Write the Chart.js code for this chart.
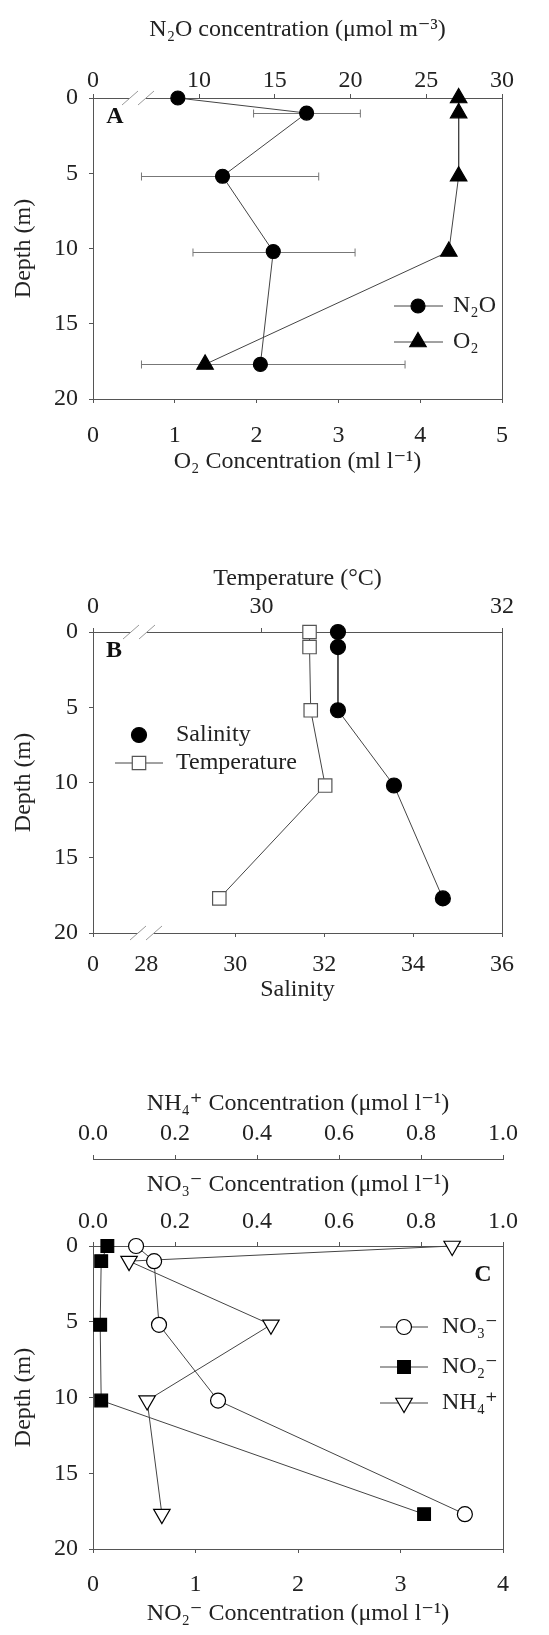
<!DOCTYPE html>
<html>
<head>
<title>Depth profiles A, B, C</title>
<script src="https://cdn.jsdelivr.net/npm/chart.js"></script>
<style>
  body { margin: 0; background: #fff; }
  canvas { position: absolute; left: 0; }
</style>
</head>
<body>
<canvas id="chartA" width="549" height="490" style="top:0px"></canvas>
<canvas id="chartB" width="549" height="530" style="top:490px"></canvas>
<canvas id="chartC" width="549" height="615" style="top:1020px"></canvas>
<script>
// sample depths (m), shared by all three panels
const depths = [0, 1, 5.2, 10.2, 17.7];
const depthTicks = [0, 5, 10, 15, 20];

// panel A
const n2o = [8.6, 17.1, 11.55, 14.9, 14.05];
const n2oErrLow = [null, 13.6, 6.2, 9.6, 6.2];
const n2oErrHigh = [null, 20.65, 17.9, 20.3, 23.6];
const o2 = [4.47, 4.47, 4.47, 4.35, 1.37];
const n2oTicks = [10, 15, 20, 25, 30];
const o2Ticks = [0, 1, 2, 3, 4, 5];

// panel B
const salinity = [32.31, 32.31, 32.31, 33.57, 34.67];
const temperature = [30.40, 30.40, 30.41, 30.53, 29.65];
const salinityTicks = [28, 30, 32, 34, 36];
const temperatureTicks = [30, 32];

// panel C
const no3 = [0.105, 0.149, 0.161, 0.305, 0.907];
const no2 = [0.14, 0.08, 0.07, 0.08, 3.23];
const nh4 = [0.876, 0.088, 0.434, 0.132, 0.168];
const concTicks = [0, 0.2, 0.4, 0.6, 0.8, 1.0];
const no2Ticks = [0, 1, 2, 3, 4];

const FONT = "'Liberation Serif', 'Times New Roman', 'DejaVu Serif', serif";
const AXIS = '#555';
const LINE = '#444';

Chart.defaults.font.family = FONT;
Chart.defaults.font.size = 24;
Chart.defaults.color = '#222';

function pts(xs) {
    return depths.map((d, i) => ({ x: xs[i], y: d }));
}

// horizontal axis; "zero" is the value where a broken axis shows a 0 label
function hAxis(o) {
    const ticks = o.zero !== undefined ? [o.zero].concat(o.ticks) : o.ticks;
    return {
        type: 'linear', axis: 'x', position: o.position, min: o.min, max: o.max,
        bounds: 'data', weight: o.weight || 0,
        afterBuildTicks: s => { s.ticks = ticks.map(v => ({ value: v })); },
        afterFit: s => { s.height = o.height; s.paddingLeft = 0; s.paddingRight = 0; },
        border: { display: true, color: AXIS },
        grid: { drawOnChartArea: false, tickLength: 4, color: AXIS },
        ticks: {
            padding: o.tickPad, maxRotation: 0, autoSkip: false,
            callback: v => v === o.zero ? '0' : (o.digits ? v.toFixed(o.digits) : String(v))
        },
        title: { display: true, text: o.title, padding: { top: o.titlePad, bottom: o.titlePad } }
    };
}

function depthAxis() {
    return {
        type: 'linear', position: 'left', reverse: true, min: 0, max: 20, bounds: 'data',
        afterBuildTicks: s => { s.ticks = depthTicks.map(v => ({ value: v })); },
        afterFit: s => { s.width = 93; s.paddingTop = 0; s.paddingBottom = 0; },
        border: { display: true, color: AXIS },
        grid: { drawOnChartArea: false, tickLength: 4, color: AXIS },
        ticks: { padding: 11 },
        title: { display: true, text: 'Depth (m)', padding: { top: 9 } }
    };
}

function series(label, xs, xAxisID, style, radius, fill, border) {
    return {
        label: label, data: pts(xs), xAxisID: xAxisID, yAxisID: 'y', clip: false,
        showLine: true, borderColor: LINE, borderWidth: 1,
        pointStyle: style.name, pointRotation: style.rot || 0, pointRadius: radius,
        pointBackgroundColor: fill, pointBorderColor: border, pointBorderWidth: 1.2
    };
}

function drawMarker(ctx, ds, x, y) {
    ctx.save();
    ctx.fillStyle = ds.pointBackgroundColor;
    ctx.strokeStyle = ds.pointBorderColor;
    ctx.lineWidth = ds.pointBorderWidth;
    if (Chart.helpers && Chart.helpers.drawPoint) {
        Chart.helpers.drawPoint(ctx, {
            pointStyle: ds.pointStyle, rotation: ds.pointRotation,
            radius: ds.pointRadius, borderWidth: ds.pointBorderWidth
        }, x, y);
    } else {
        ctx.beginPath(); ctx.arc(x, y, ds.pointRadius, 0, Math.PI * 2); ctx.fill(); ctx.stroke();
    }
    ctx.restore();
}

// right edge of the frame, axis breaks and panel letter
const framePlugin = {
    id: 'frame',
    afterDraw(chart, args, opts) {
        const { ctx, chartArea: a } = chart;
        ctx.save();
        ctx.strokeStyle = AXIS;
        ctx.lineWidth = 1;
        ctx.beginPath();
        ctx.moveTo(a.right + 0.5, a.top);
        ctx.lineTo(a.right + 0.5, a.bottom);
        ctx.stroke();
        (opts.breaks || []).forEach(b => {
            const s = chart.scales[b.axis];
            const y = s.position === 'top' ? s.bottom : s.top;
            const c = a.left + b.offset;
            ctx.fillStyle = '#fff';
            ctx.fillRect(c - 8, y - 5, 16, 10);
            ctx.strokeStyle = '#999';
            [c - 8, c + 8].forEach(cx => {
                ctx.beginPath();
                ctx.moveTo(cx - 8, y + 7);
                ctx.lineTo(cx + 8, y - 7);
                ctx.stroke();
            });
        });
        if (opts.letter) {
            ctx.font = 'bold 24px ' + FONT;
            ctx.fillStyle = '#111';
            ctx.textAlign = 'center';
            ctx.textBaseline = 'middle';
            ctx.fillText(opts.letter.text, opts.letter.x, opts.letter.y);
        }
        ctx.restore();
    }
};

// legend drawn inside the plot
const inlineLegend = {
    id: 'inlineLegend',
    afterDraw(chart, args, opts) {
        const ctx = chart.ctx;
        (opts.items || []).forEach(it => {
            const ds = chart.data.datasets[it.dataset];
            if (it.line) {
                ctx.save();
                ctx.strokeStyle = ds.borderColor;
                ctx.lineWidth = 1;
                ctx.beginPath();
                ctx.moveTo(it.line[0], it.y);
                ctx.lineTo(it.line[1], it.y);
                ctx.stroke();
                ctx.restore();
            }
            drawMarker(ctx, ds, it.marker, it.y);
            ctx.save();
            ctx.font = '24px ' + FONT;
            ctx.fillStyle = '#222';
            ctx.textAlign = 'left';
            ctx.textBaseline = 'middle';
            ctx.fillText(ds.label, it.text, it.y);
            ctx.restore();
        });
    }
};

// horizontal error bars
const errorBars = {
    id: 'errorBars',
    beforeDatasetsDraw(chart, args, opts) {
        if (!opts.low) return;
        const ctx = chart.ctx;
        const xs = chart.scales[opts.axis], ys = chart.scales.y;
        ctx.save();
        ctx.strokeStyle = '#777';
        ctx.lineWidth = 1;
        opts.low.forEach((lo, i) => {
            if (lo === null) return;
            const y = Math.round(ys.getPixelForValue(depths[i])) + 0.5;
            const x0 = xs.getPixelForValue(lo), x1 = xs.getPixelForValue(opts.high[i]);
            ctx.beginPath();
            ctx.moveTo(x0, y); ctx.lineTo(x1, y);
            ctx.moveTo(x0, y - 4); ctx.lineTo(x0, y + 4);
            ctx.moveTo(x1, y - 4); ctx.lineTo(x1, y + 4);
            ctx.stroke();
        });
        ctx.restore();
    }
};

Chart.register(framePlugin, inlineLegend, errorBars);

const common = { responsive: false, animation: false, events: [] };

// Panel A
new Chart(document.getElementById('chartA'), {
    type: 'scatter',
    data: {
        datasets: [
            series('N₂O', n2o, 'x2', { name: 'circle' }, 7, '#000', '#000'),
            series('O₂', o2, 'x', { name: 'triangle' }, 9.5, '#000', '#000')
        ]
    },
    options: Object.assign({}, common, {
        layout: { padding: { left: 0, right: 47, top: 0, bottom: 0 } },
        scales: {
            x: hAxis({ position: 'bottom', min: 0, max: 5, ticks: o2Ticks, height: 91,
                tickPad: 18, title: 'O₂ Concentration (ml l⁻¹)', titlePad: 14 }),
            x2: hAxis({ position: 'top', min: 3, max: 30, zero: 3, ticks: n2oTicks, height: 98,
                tickPad: -1, title: 'N₂O concentration (μmol m⁻³)', titlePad: 15 }),
            y: depthAxis()
        },
        plugins: {
            legend: { display: false },
            tooltip: { enabled: false },
            frame: { breaks: [{ axis: 'x2', offset: 45 }], letter: { text: 'A', x: 115, y: 117 } },
            inlineLegend: { items: [
                { dataset: 0, y: 306, line: [394, 443], marker: 418, text: 453 },
                { dataset: 1, y: 342, line: [394, 443], marker: 418, text: 453 }
            ] },
            errorBars: { axis: 'x2', low: n2oErrLow, high: n2oErrHigh }
        }
    })
});

// Panel B
new Chart(document.getElementById('chartB'), {
    type: 'scatter',
    data: {
        datasets: [
            series('Salinity', salinity, 'x', { name: 'circle' }, 7.5, '#000', '#000'),
            series('Temperature', temperature, 'x2', { name: 'rect' }, 9.5, '#fff', '#555')
        ]
    },
    options: Object.assign({}, common, {
        layout: { padding: { left: 0, right: 47, top: 0, bottom: 0 } },
        scales: {
            x: hAxis({ position: 'bottom', min: 26.8, max: 36, zero: 26.8, ticks: salinityTicks,
                height: 87, tickPad: 13, title: 'Salinity', titlePad: 16 }),
            x2: hAxis({ position: 'top', min: 28.6, max: 32, zero: 28.6, ticks: temperatureTicks,
                height: 142, tickPad: 7, title: 'Temperature (°C)', titlePad: 74 }),
            y: depthAxis()
        },
        plugins: {
            legend: { display: false },
            tooltip: { enabled: false },
            frame: {
                breaks: [{ axis: 'x2', offset: 46 }, { axis: 'x', offset: 53 }],
                letter: { text: 'B', x: 114, y: 161 }
            },
            inlineLegend: { items: [
                { dataset: 0, y: 245, marker: 139, text: 176 },
                { dataset: 1, y: 273, line: [115, 163], marker: 139, text: 176 }
            ] }
        }
    })
});

// Panel C
new Chart(document.getElementById('chartC'), {
    type: 'scatter',
    data: {
        datasets: [
            series('NO₃⁻', no3, 'x2', { name: 'circle' }, 7.5, '#fff', '#000'),
            series('NO₂⁻', no2, 'x', { name: 'rect' }, 9, '#000', '#000'),
            series('NH₄⁺', nh4, 'x3', { name: 'triangle', rot: 180 }, 9.5, '#fff', '#000')
        ]
    },
    options: Object.assign({}, common, {
        layout: { padding: { left: 0, right: 46, top: 0, bottom: 0 } },
        scales: {
            x: hAxis({ position: 'bottom', min: 0, max: 4, ticks: no2Ticks, height: 86,
                tickPad: 17, title: 'NO₂⁻ Concentration (μmol l⁻¹)', titlePad: 7 }),
            x2: hAxis({ position: 'top', min: 0, max: 1, ticks: concTicks, digits: 1, height: 87,
                tickPad: 6, title: 'NO₃⁻ Concentration (μmol l⁻¹)', titlePad: 11 }),
            x3: hAxis({ position: 'top', min: 0, max: 1, ticks: concTicks, digits: 1, height: 139,
                weight: 1, tickPad: 7, title: 'NH₄⁺ Concentration (μmol l⁻¹)', titlePad: 69 }),
            y: depthAxis()
        },
        plugins: {
            legend: { display: false },
            tooltip: { enabled: false },
            frame: { letter: { text: 'C', x: 483, y: 255 } },
            inlineLegend: { items: [
                { dataset: 0, y: 307, line: [380, 428], marker: 404, text: 442 },
                { dataset: 1, y: 347, line: [380, 428], marker: 404, text: 442 },
                { dataset: 2, y: 383, line: [380, 428], marker: 404, text: 442 }
            ] }
        }
    })
});
</script>
</body>
</html>
